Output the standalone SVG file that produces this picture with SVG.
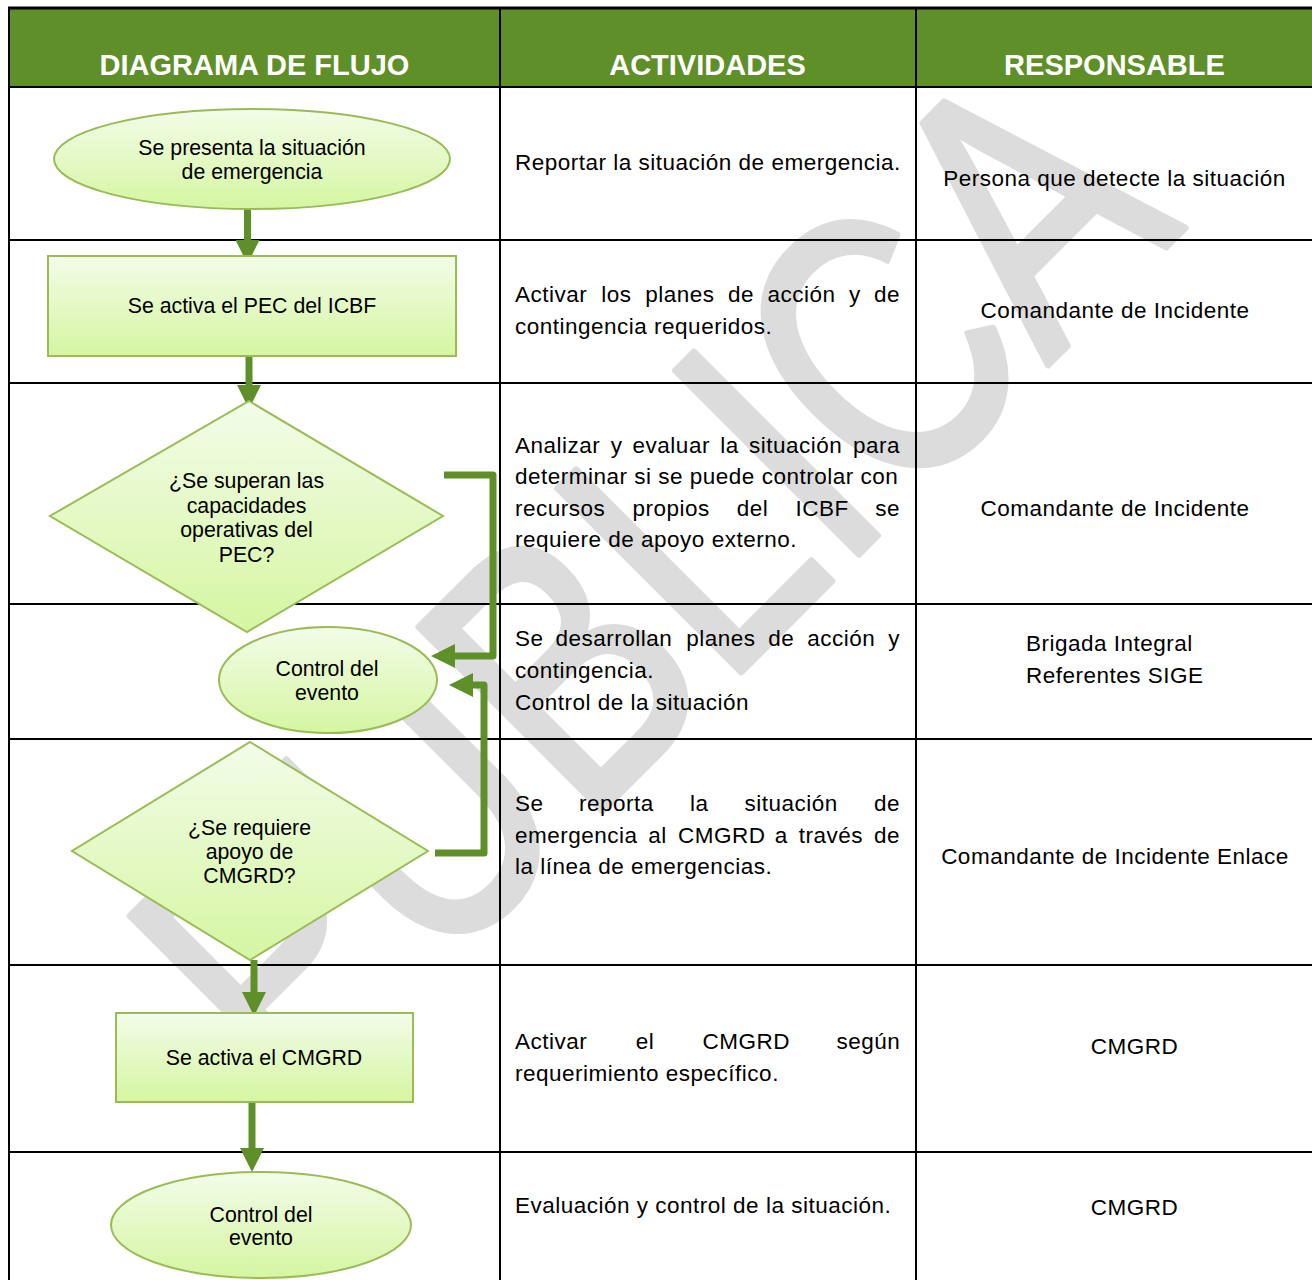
<svg xmlns="http://www.w3.org/2000/svg" width="1312" height="1280" viewBox="0 0 1312 1280">
<defs>
<linearGradient id="gf" x1="0" y1="0" x2="0" y2="1">
<stop offset="0" stop-color="#f3fce9"/>
<stop offset="1" stop-color="#d5f6a1"/>
</linearGradient>
<marker id="ah" markerUnits="userSpaceOnUse" markerWidth="24" markerHeight="24" viewBox="0 0 24 24" refX="0" refY="12" orient="auto">
<path d="M0,0 L24,12 L0,24 Z" fill="#5f8f28"/>
</marker>
<style>
.shape{fill:url(#gf);stroke:#9bbb59;stroke-width:2}
.ft{font-family:"Liberation Sans",Arial,sans-serif;font-size:21.3px;fill:#000;text-anchor:middle}
.tx{font-family:"Liberation Sans",Arial,sans-serif;font-size:22.5px;fill:#000;letter-spacing:0.5px}
.rc{text-anchor:middle}
.hd{font-family:"Liberation Sans",Arial,sans-serif;font-size:29px;font-weight:bold;fill:#fff;text-anchor:middle}
.grid{stroke:#000;stroke-width:2;fill:none}
.conn{fill:none;stroke:#5f8f28;stroke-width:7;stroke-linejoin:round;marker-end:url(#ah)}
</style>
</defs>
<rect x="0" y="0" width="1312" height="1280" fill="#fff"/>
<text transform="translate(741,672) rotate(-45) scale(0.78,1)" font-family="Liberation Sans,Arial,sans-serif" font-size="377" text-anchor="middle" fill="#dcdcdc" stroke="#dcdcdc" stroke-width="7" stroke-linejoin="round">PÚBLICA</text>
<g id="table">
<rect x="9" y="8" width="1304" height="79" fill="#5f8f28"/>
<line class="grid" x1="8" y1="8" x2="1312" y2="8" style="stroke-width:3"/>
<line class="grid" x1="9" y1="87" x2="1312" y2="87"/>
<line class="grid" x1="9" y1="240" x2="1312" y2="240"/>
<line class="grid" x1="9" y1="383" x2="1312" y2="383"/>
<line class="grid" x1="9" y1="604" x2="1312" y2="604"/>
<line class="grid" x1="9" y1="739" x2="1312" y2="739"/>
<line class="grid" x1="9" y1="965" x2="1312" y2="965"/>
<line class="grid" x1="9" y1="1152" x2="1312" y2="1152"/>
<line class="grid" x1="9" y1="8" x2="9" y2="1280"/>
<line class="grid" x1="500" y1="8" x2="500" y2="1280"/>
<line class="grid" x1="916" y1="8" x2="916" y2="1280"/>
<text class="hd" x="254.5" y="75">DIAGRAMA DE FLUJO</text>
<text class="hd" x="707.5" y="75">ACTIVIDADES</text>
<text class="hd" x="1114.5" y="75">RESPONSABLE</text>
</g>
<g id="connectors">
<path class="conn" d="M247.5,209 V240"/>
<path class="conn" d="M249,356 V385"/>
<path class="conn" d="M254,960 V992"/>
<path class="conn" d="M252,1102 V1148"/>
<path class="conn" d="M444,475 H493 V656 H455"/>
<path class="conn" d="M435,853 H484 V685 H473"/>
</g>
<g id="n1">
<ellipse class="shape" cx="252" cy="159" rx="198" ry="50"/>
<text class="ft" x="252" y="155">Se presenta la situación</text>
<text class="ft" x="252" y="179">de emergencia</text>
</g>
<g id="n2">
<rect class="shape" x="48" y="256" width="408" height="100"/>
<text class="ft" x="252" y="313">Se activa el PEC del ICBF</text>
</g>
<g id="n3">
<polygon class="shape" points="249,401 443,516 247,632 50,516"/>
<text class="ft" x="246.5" y="488">¿Se superan las</text>
<text class="ft" x="246.5" y="513">capacidades</text>
<text class="ft" x="246.5" y="537">operativas del</text>
<text class="ft" x="246.5" y="562">PEC?</text>
</g>
<g id="n4">
<ellipse class="shape" cx="328" cy="680" rx="109" ry="53"/>
<text class="ft" x="327" y="676">Control del</text>
<text class="ft" x="327" y="700">evento</text>
</g>
<g id="n5">
<polygon class="shape" points="250,742 428,851 250,960 72,851"/>
<text class="ft" x="249.5" y="835">¿Se requiere</text>
<text class="ft" x="249.5" y="859">apoyo de</text>
<text class="ft" x="249.5" y="883">CMGRD?</text>
</g>
<g id="n6">
<rect class="shape" x="116" y="1013" width="297" height="89"/>
<text class="ft" x="264" y="1065">Se activa el CMGRD</text>
</g>
<g id="n7">
<ellipse class="shape" cx="261" cy="1225" rx="150" ry="53"/>
<text class="ft" x="261" y="1222">Control del</text>
<text class="ft" x="261" y="1245">evento</text>
</g>
<g id="activities">
<text class="tx" x="515" y="170">Reportar la situación de emergencia.</text>
<text class="tx" y="302"><tspan x="515">Activar</tspan><tspan x="601.2">los</tspan><tspan x="645.2">planes</tspan><tspan x="728">de</tspan><tspan x="767.4">acción</tspan><tspan x="849">y</tspan><tspan x="874.1">de</tspan></text>
<text class="tx" x="515" y="334">contingencia requeridos.</text>
<text class="tx" y="453"><tspan x="515">Analizar</tspan><tspan x="610.8">y</tspan><tspan x="632.6">evaluar</tspan><tspan x="720.2">la</tspan><tspan x="749">situación</tspan><tspan x="853">para</tspan></text>
<text class="tx" x="515" y="484">determinar si se puede controlar con</text>
<text class="tx" y="516"><tspan x="515">recursos</tspan><tspan x="632.4">propios</tspan><tspan x="736.8">del</tspan><tspan x="795.5">ICBF</tspan><tspan x="875.3">se</tspan></text>
<text class="tx" x="515" y="547">requiere de apoyo externo.</text>
<text class="tx" y="646"><tspan x="515">Se</tspan><tspan x="555.5">desarrollan</tspan><tspan x="686.2">planes</tspan><tspan x="768.3">de</tspan><tspan x="807.2">acción</tspan><tspan x="888.2">y</tspan></text>
<text class="tx" x="515" y="678">contingencia.</text>
<text class="tx" x="515" y="710">Control de la situación</text>
<text class="tx" y="811"><tspan x="515">Se</tspan><tspan x="579">reporta</tspan><tspan x="690">la</tspan><tspan x="744.5">situación</tspan><tspan x="874.1">de</tspan></text>
<text class="tx" y="843"><tspan x="515">emergencia</tspan><tspan x="648.2">al</tspan><tspan x="677.9">CMGRD</tspan><tspan x="774.8">a</tspan><tspan x="798.7">través</tspan><tspan x="874.1">de</tspan></text>
<text class="tx" x="515" y="874">la línea de emergencias.</text>
<text class="tx" y="1049"><tspan x="515">Activar</tspan><tspan x="635.7">el</tspan><tspan x="702.4">CMGRD</tspan><tspan x="836.4">según</tspan></text>
<text class="tx" x="515" y="1081">requerimiento específico.</text>
<text class="tx" x="515" y="1213">Evaluación y control de la situación.</text>
</g>
<g id="responsible">
<text class="tx rc" x="1114.5" y="186">Persona que detecte la situación</text>
<text class="tx rc" x="1115" y="318">Comandante de Incidente</text>
<text class="tx rc" x="1115" y="516">Comandante de Incidente</text>
<text class="tx" x="1026" y="651">Brigada Integral</text>
<text class="tx" x="1026" y="683">Referentes SIGE</text>
<text class="tx rc" x="1115" y="864">Comandante de Incidente Enlace</text>
<text class="tx rc" x="1134.5" y="1054">CMGRD</text>
<text class="tx rc" x="1134.5" y="1215">CMGRD</text>
</g>
</svg>
